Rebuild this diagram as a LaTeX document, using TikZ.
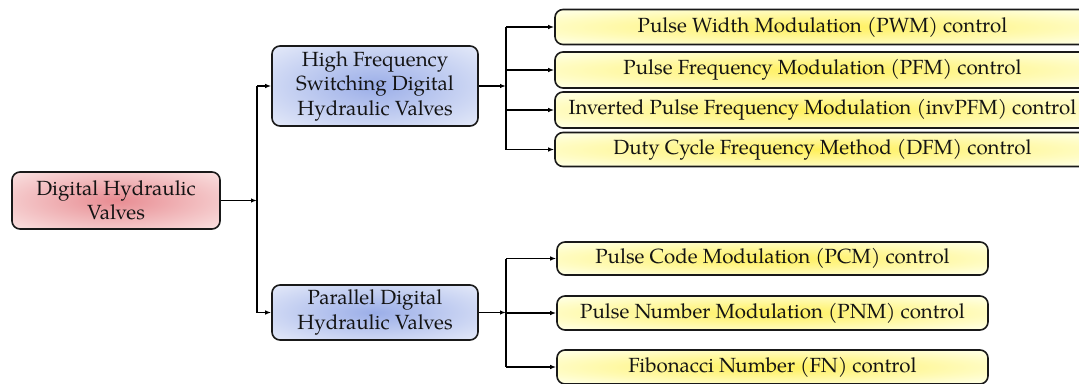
\documentclass[tikz,border=0pt]{standalone}
\usepackage{fontspec}
\setmainfont{TeX Gyre Pagella}
\usetikzlibrary{arrows.meta}
\definecolor{redin}{RGB}{232,140,146}
\definecolor{redout}{RGB}{249,222,222}
\definecolor{bluein}{RGB}{155,174,232}
\definecolor{blueout}{RGB}{225,231,248}
\definecolor{yelin}{RGB}{255,240,90}
\definecolor{yelout}{RGB}{255,255,222}
\definecolor{bord}{RGB}{25,25,25}
\pgfdeclareradialshading{redsh}{\pgfpointorigin}{color(0bp)=(redin); color(34bp)=(redout); color(50bp)=(redout)}
\pgfdeclareradialshading{bluesh}{\pgfpointorigin}{color(0bp)=(bluein); color(34bp)=(blueout); color(50bp)=(blueout)}
\pgfdeclareradialshading{yelsh}{\pgfpointorigin}{color(0bp)=(yelin); color(32bp)=(yelout); color(50bp)=(yelout)}
\tikzset{
  box/.style={draw=bord, line width=1.6pt, rounded corners=8pt, align=center,
    inner sep=0pt, font=\fontsize{20.5}{24.5}\selectfont, text=black!92},
  rootbox/.style={box, shading=redsh},
  midbox/.style={box, shading=bluesh},
  leafbox/.style={box, shading=yelsh},
  conn/.style={line width=1.3pt, draw=black},
  arr/.style={conn, -{Latex[length=6pt,width=4.5pt]}}
}
\begin{document}
\begin{tikzpicture}[x=1pt,y=-1pt]
\clip (0,0) rectangle (1079,383);
\fill[white] (0,0) rectangle (1079,383);
% root
\node[rootbox, minimum width=208pt, minimum height=57pt] (root) at (116,200.5) {Digital Hydraulic\\Valves};
% mid
\node[midbox, minimum width=206pt, minimum height=80pt] (hf) at (375,86) {High Frequency\\Switching Digital\\Hydraulic Valves};
\node[midbox, minimum width=206pt, minimum height=55pt] (pd) at (375,312.5) {Parallel Digital\\Hydraulic Valves};
% top leaves
\node[leafbox, minimum width=535pt, minimum height=35pt] (pwm) at (822.5,27) {Pulse Width Modulation (PWM) control};
\node[leafbox, minimum width=535pt, minimum height=36pt] (pfm) at (822.5,70) {Pulse Frequency Modulation (PFM) control};
\node[leafbox, minimum width=535pt, minimum height=36pt] (ipfm) at (822.5,110) {Inverted Pulse Frequency Modulation (invPFM) control};
\node[leafbox, minimum width=535pt, minimum height=34pt] (dfm) at (822.5,149.5) {Duty Cycle Frequency Method (DFM) control};
% bottom leaves
\node[leafbox, minimum width=431pt, minimum height=33pt] (pcm) at (772.5,258.5) {Pulse Code Modulation (PCM) control};
\node[leafbox, minimum width=431pt, minimum height=34pt] (pnm) at (772.5,313) {Pulse Number Modulation (PNM) control};
\node[leafbox, minimum width=431pt, minimum height=34pt] (fn) at (772.5,367) {Fibonacci Number (FN) control};
% junctions
\coordinate (j1) at (257,200.5);
\coordinate (j2) at (506,86);
\coordinate (j3) at (506,312.5);
% connectors
\draw[arr] (root.east) -- (j1);
\draw[conn] (j1 |- hf.west) -- (j1 |- pd.west);
\draw[arr] (j1 |- hf.west) -- (hf.west);
\draw[arr] (j1 |- pd.west) -- (pd.west);
\draw[arr] (hf.east) -- (j2);
\draw[conn] (j2 |- pwm.west) -- (j2 |- dfm.west);
\foreach \n in {pwm,pfm,ipfm,dfm} \draw[arr] (j2 |- \n.west) -- (\n.west);
\draw[arr] (pd.east) -- (j3);
\draw[conn] (j3 |- pcm.west) -- (j3 |- fn.west);
\foreach \n in {pcm,pnm,fn} \draw[arr] (j3 |- \n.west) -- (\n.west);
\end{tikzpicture}
\end{document}
